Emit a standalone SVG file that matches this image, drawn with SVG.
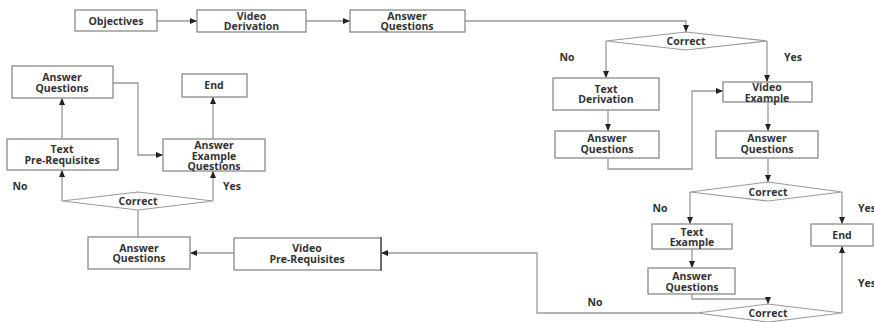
<svg xmlns="http://www.w3.org/2000/svg" width="874" height="322" viewBox="0 0 874 322">
<style>
.box{fill:#fff;stroke:#8a8a8a;stroke-width:1.3}
.dia{fill:#fff;stroke:#9a9a9a;stroke-width:1.2}
.t{font-family:"Open Sans","Liberation Sans",sans-serif;font-weight:bold;font-size:10.5px;fill:#333;text-anchor:middle;dominant-baseline:central}
.lbl{font-family:"Open Sans","Liberation Sans",sans-serif;font-weight:bold;font-size:10.5px;fill:#333;dominant-baseline:central}
.c{fill:none;stroke:#9a9a9a;stroke-width:1.3}
</style>
<defs>
<marker id="ah" markerUnits="userSpaceOnUse" markerWidth="7" markerHeight="6" refX="7" refY="3" orient="auto">
<path d="M0,0 L7,3 L0,6 z" fill="#222"/>
</marker>
</defs>
<rect width="874" height="322" fill="#fff"/>
<g id="connectors">
<path class="c" d="M157,21 H197" marker-end="url(#ah)"/>
<path class="c" d="M306,21 H350" marker-end="url(#ah)"/>
<path class="c" d="M465,21 H686 V32" marker-end="url(#ah)"/>
<path class="c" d="M606,41 V78" marker-end="url(#ah)"/>
<path class="c" d="M767,41 V82" marker-end="url(#ah)"/>
<path class="c" d="M608,110 V131" marker-end="url(#ah)"/>
<path class="c" d="M608,158 V169 H692 V91 H723" marker-end="url(#ah)"/>
<path class="c" d="M768,102 V131" marker-end="url(#ah)"/>
<path class="c" d="M768,158 V182" marker-end="url(#ah)"/>
<path class="c" d="M690,192 V224" marker-end="url(#ah)"/>
<path class="c" d="M842,192 V224" marker-end="url(#ah)"/>
<path class="c" d="M692,249 V268" marker-end="url(#ah)"/>
<path class="c" d="M692,294 V299 H768 V304" marker-end="url(#ah)"/>
<path class="c" d="M842,313 V246" marker-end="url(#ah)"/>
<path class="c" d="M697,313 H537 V253 H381" marker-end="url(#ah)"/>
<path class="c" d="M234,253 H190" marker-end="url(#ah)"/>
<path class="c" d="M138,237 V210"/>
<path class="c" d="M62,201 V170" marker-end="url(#ah)"/>
<path class="c" d="M213,201 V171" marker-end="url(#ah)"/>
<path class="c" d="M62,139 V98" marker-end="url(#ah)"/>
<path class="c" d="M113,83 H138 V155 H163" marker-end="url(#ah)"/>
<path class="c" d="M213,139 V97" marker-end="url(#ah)"/>
</g>
<g id="objectives"><rect class="box" x="75" y="10" width="82" height="21"/><text class="t" x="116" y="20.5">Objectives</text></g>
<g id="video-derivation"><rect class="box" x="197" y="10" width="109" height="22"/><text class="t" x="251.5" y="15.5">Video</text><text class="t" x="251.5" y="26">Derivation</text></g>
<g id="answer-questions-1"><rect class="box" x="350" y="10" width="115" height="22"/><text class="t" x="407" y="15.5">Answer</text><text class="t" x="407" y="26">Questions</text></g>
<g id="correct-1"><polygon class="dia" points="606,41 686,32 767,41 686,50"/><text class="t" x="686" y="41">Correct</text></g>
<g id="text-derivation"><rect class="box" x="553" y="78" width="106" height="32"/><text class="t" x="606" y="88.5">Text</text><text class="t" x="606" y="99">Derivation</text></g>
<g id="video-example"><rect class="box" x="723" y="82" width="89" height="20"/><text class="t" x="767" y="87">Video</text><text class="t" x="767" y="97.5">Example</text></g>
<g id="answer-questions-2"><rect class="box" x="555" y="131" width="104" height="27"/><text class="t" x="607" y="138">Answer</text><text class="t" x="607" y="149">Questions</text></g>
<g id="answer-questions-3"><rect class="box" x="716" y="131" width="102" height="27"/><text class="t" x="767" y="138">Answer</text><text class="t" x="767" y="149">Questions</text></g>
<g id="correct-2"><polygon class="dia" points="690,192 768,182 842,192 768,201"/><text class="t" x="768" y="192">Correct</text></g>
<g id="text-example"><rect class="box" x="652" y="224" width="80" height="25"/><text class="t" x="692" y="231.5">Text</text><text class="t" x="692" y="242">Example</text></g>
<g id="end-1"><rect class="box" x="811" y="224" width="62" height="22"/><text class="t" x="842" y="235">End</text></g>
<g id="answer-questions-4"><rect class="box" x="648" y="268" width="87" height="26"/><text class="t" x="692" y="276">Answer</text><text class="t" x="692" y="286.5">Questions</text></g>
<g id="correct-3"><polygon class="dia" points="697,313 768,304 842,313 768,322"/><text class="t" x="768" y="313">Correct</text></g>
<g id="video-prerequisites"><rect class="box" x="234" y="238" width="147" height="32"/><line x1="381" y1="237" x2="381" y2="271" stroke="#555" stroke-width="1.5"/><text class="t" x="307" y="248">Video</text><text class="t" x="307" y="259">Pre-Requisites</text></g>
<g id="answer-questions-5"><rect class="box" x="88" y="237" width="102" height="32"/><text class="t" x="139" y="247.5">Answer</text><text class="t" x="139" y="258">Questions</text></g>
<g id="correct-4"><polygon class="dia" points="62,201 138,192 213,201 138,210"/><text class="t" x="138" y="201">Correct</text></g>
<g id="text-prerequisites"><rect class="box" x="7" y="139" width="111" height="31"/><text class="t" x="62" y="149">Text</text><text class="t" x="62" y="160">Pre-Requisites</text></g>
<g id="answer-example-questions"><rect class="box" x="163" y="139" width="102" height="32"/><text class="t" x="214" y="145">Answer</text><text class="t" x="214" y="155.5">Example</text><text class="t" x="214" y="166">Questions</text></g>
<g id="answer-questions-6"><rect class="box" x="12" y="66" width="101" height="32"/><text class="t" x="62" y="77">Answer</text><text class="t" x="62" y="88">Questions</text></g>
<g id="end-2"><rect class="box" x="182" y="74" width="65" height="23"/><text class="t" x="214" y="85">End</text></g>
<g id="labels">
<text class="t" x="567" y="57">No</text>
<text class="t" x="793" y="57">Yes</text>
<text class="t" x="660" y="208">No</text>
<text class="lbl" x="858" y="208">Yes</text>
<text class="lbl" x="858" y="283">Yes</text>
<text class="t" x="595" y="302">No</text>
<text class="t" x="20" y="186">No</text>
<text class="t" x="232" y="186">Yes</text>
</g>
</svg>
